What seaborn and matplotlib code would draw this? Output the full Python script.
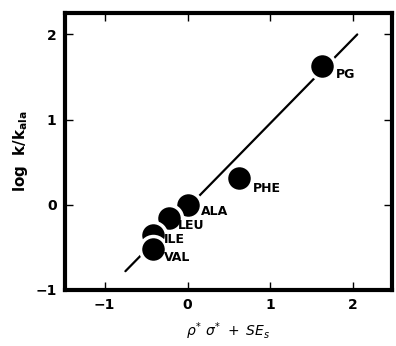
import matplotlib
matplotlib.use("Agg")
import matplotlib.pyplot as plt
import seaborn as sns
import pandas as pd

labels = ["PG", "PHE", "ALA", "LEU", "ILE", "VAL"]
x_vals = [1.62, 0.62, 0.0, -0.22, -0.42, -0.42]
y_vals = [1.63, 0.31, 0.0, -0.15, -0.36, -0.52]
fit_x = [-0.75, 2.05]
fit_y = [-0.78, 2.0]

sns.set_style("white")
plt.rcParams['font.family'] = ['DejaVu Sans']
plt.rcParams['text.color'] = 'black'
plt.rcParams['axes.labelcolor'] = 'black'
plt.rcParams['xtick.color'] = 'black'
plt.rcParams['ytick.color'] = 'black'

df = pd.DataFrame({"x": x_vals, "y": y_vals, "label": labels})
fit = pd.DataFrame({"x": fit_x, "y": fit_y})

fig = plt.figure(figsize=(3.96, 3.46), dpi=100)
ax = fig.add_axes([0.164, 0.162, 0.826, 0.8])

sns.lineplot(data=fit, x="x", y="y", color="black", lw=1.6, ax=ax, zorder=1)
sns.scatterplot(data=df, x="x", y="y", s=350, color="black", edgecolor="white",
                linewidth=2.5, ax=ax, zorder=3)

offsets = {"PG": (10, -6), "PHE": (10, -7), "ALA": (10, -5),
           "LEU": (6, -6), "ILE": (8, -3), "VAL": (8, -6)}
for lab, xv, yv in zip(labels, x_vals, y_vals):
    dx, dy = offsets[lab]
    ax.annotate(lab, (xv, yv), xytext=(dx, dy), textcoords="offset points",
                fontsize=9, fontweight="bold", va="center", ha="left", color="black")

ax.set_xlim(-1.48, 2.47)
ax.set_ylim(-1.0, 2.25)
ax.set_xticks([-1, 0, 1, 2])
ax.set_yticks([-1, 0, 1, 2])
ax.set_xticklabels(["\u22121", "0", "1", "2"], fontweight="bold")
ax.set_yticklabels(["\u22121", "0", "1", "2"], fontweight="bold")
ax.tick_params(direction="in", length=6, width=1, top=True, right=True,
               labelsize=10, pad=6, bottom=True, left=True)
for sp in ax.spines.values():
    sp.set_linewidth(3)
    sp.set_color("black")

ax.set_xlabel(r"$\rho^{*}\ \sigma^{*}\ +\ SE_{s}$", fontsize=10, labelpad=6)
ax.set_ylabel(r"$\mathbf{log\ \ k/k_{ala}}$", fontsize=11, labelpad=4)

fig.savefig("out.png", dpi=100)
